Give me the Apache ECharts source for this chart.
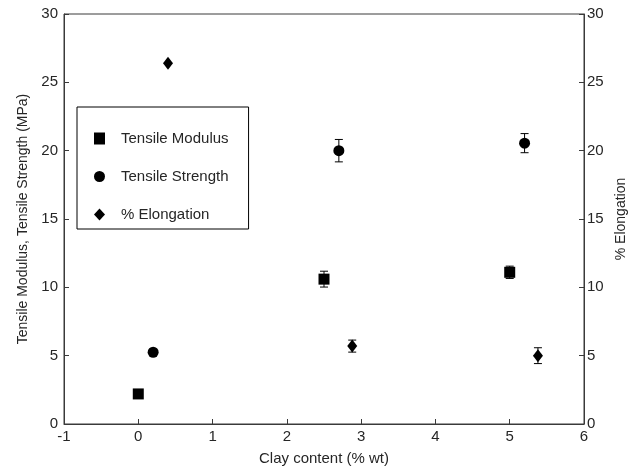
<!DOCTYPE html>
<html><head><meta charset="utf-8">
<script src="https://cdn.jsdelivr.net/npm/echarts@6/dist/echarts.min.js"></script>
<style>html,body{margin:0;padding:0;background:#fff}#c{width:633px;height:472px}</style>
</head><body><div id="c"></div>
<script>
// Data
const xTicks = [-1, 0, 1, 2, 3, 4, 5, 6];
const modulusX = [0, 2.5, 5.0];
const modulusY = [2.2, 10.6, 11.1];
const modulusErr = [0, 0.58, 0.45];
const strengthX = [0.2, 2.7, 5.2];
const strengthY = [5.25, 20.0, 20.55];
const strengthErr = [0, 0.82, 0.7];
const elongX = [0.4, 2.88, 5.38];
const elongY = [26.4, 5.7, 5.0];
const elongErr = [0, 0.44, 0.58];

const FONT = 'Liberation Sans';
const TXT = '#262626';
const AX = '#3a3a3a';
const FS = 15;

function pts(xs, ys) { return xs.map((x, i) => [x, ys[i]]); }
function errData(xs, ys, es) { return xs.map((x, i) => [x, ys[i] - es[i], ys[i] + es[i]]).filter((d, i) => es[i] > 0); }

function errRender(params, api) {
  const x = api.value(0), lo = api.value(1), hi = api.value(2);
  const pLo = api.coord([x, lo]);
  const pHi = api.coord([x, hi]);
  const w = 4;
  const st = { stroke: '#000', lineWidth: 1 };
  return { type: 'group', children: [
    { type: 'line', shape: { x1: pLo[0], y1: pLo[1], x2: pHi[0], y2: pHi[1] }, style: st },
    { type: 'line', shape: { x1: pLo[0] - w, y1: pLo[1], x2: pLo[0] + w, y2: pLo[1] }, style: st },
    { type: 'line', shape: { x1: pHi[0] - w, y1: pHi[1], x2: pHi[0] + w, y2: pHi[1] }, style: st }
  ]};
}

const yAxisCommon = {
  type: 'value', min: 0, max: 30, interval: 5,
  axisLine: { show: true, onZero: false, lineStyle: { color: AX, width: 1 } },
  axisTick: { show: true, inside: true, length: 5, lineStyle: { color: AX } },
  splitLine: { show: false },
  axisLabel: { color: TXT, fontFamily: FONT, fontSize: FS },
  nameLocation: 'middle', nameRotate: 90,
  nameTextStyle: { color: TXT, fontFamily: FONT, fontSize: FS - 1 }
};

const chart = echarts.init(document.getElementById('c'), null, { renderer: 'canvas' });
chart.setOption({
  animation: false,
  backgroundColor: '#fff',
  grid: { left: 64, right: 49, top: 14, bottom: 48, containLabel: false, outerBoundsMode: 'none',
          show: true, borderColor: AX, borderWidth: 1, backgroundColor: 'transparent' },
  xAxis: {
    type: 'value', min: xTicks[0], max: xTicks[xTicks.length - 1], interval: 1,
    axisLine: { show: true, onZero: false, lineStyle: { color: AX } },
    axisTick: { show: true, inside: true, length: 5, lineStyle: { color: AX } },
    splitLine: { show: false },
    axisLabel: { color: TXT, fontFamily: FONT, fontSize: FS, margin: 5 },
    name: 'Clay content (% wt)', nameLocation: 'middle', nameGap: 27,
    nameTextStyle: { color: TXT, fontFamily: FONT, fontSize: FS }
  },
  yAxis: [
    Object.assign({}, yAxisCommon, { position: 'left', name: 'Tensile Modulus, Tensile Strength (MPa)', nameGap: 34,
      axisLabel: { color: TXT, fontFamily: FONT, fontSize: FS, margin: 6 } }),
    Object.assign({}, yAxisCommon, { position: 'right', name: '% Elongation', nameGap: 30,
      axisLabel: { color: TXT, fontFamily: FONT, fontSize: FS, margin: 3 } })
  ],
  legend: {
    orient: 'vertical', left: 77, top: 107,
    backgroundColor: '#fff', borderColor: '#000', borderWidth: 1,
    padding: [24, 20, 7, 17],
    itemWidth: 11, itemHeight: 12, itemGap: 23,
    textStyle: { color: TXT, fontFamily: FONT, fontSize: FS, lineHeight: 14, padding: [0, 0, 0, 11] },
    data: [
      { name: 'Tensile Modulus', icon: 'rect' },
      { name: 'Tensile Strength', icon: 'circle' },
      { name: '% Elongation', icon: 'diamond' }
    ]
  },
  series: [
    { name: 'Tensile Modulus', type: 'scatter', symbol: 'rect', symbolSize: 11, itemStyle: { color: '#000', opacity: 1 }, data: pts(modulusX, modulusY), z: 3 },
    { name: 'Tensile Strength', type: 'scatter', symbol: 'circle', symbolSize: 11, itemStyle: { color: '#000', opacity: 1 }, data: pts(strengthX, strengthY), z: 3 },
    { name: '% Elongation', type: 'scatter', symbol: 'diamond', symbolSize: [10, 13], yAxisIndex: 1, itemStyle: { color: '#000', opacity: 1 }, data: pts(elongX, elongY), z: 3 },
    { type: 'custom', renderItem: errRender, data: errData(modulusX, modulusY, modulusErr), encode: { x: 0, y: [1, 2] }, z: 2, silent: true },
    { type: 'custom', renderItem: errRender, data: errData(strengthX, strengthY, strengthErr), encode: { x: 0, y: [1, 2] }, z: 2, silent: true },
    { type: 'custom', yAxisIndex: 1, renderItem: errRender, data: errData(elongX, elongY, elongErr), encode: { x: 0, y: [1, 2] }, z: 2, silent: true }
  ]
});
</script></body></html>
